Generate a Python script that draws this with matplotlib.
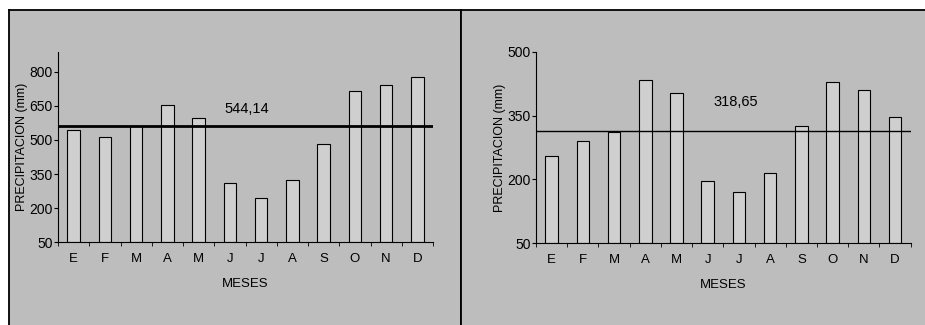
import matplotlib.pyplot as plt
import numpy as np

plt.rcParams['font.family'] = ['Liberation Sans', 'DejaVu Sans']

meses = ['E', 'F', 'M', 'A', 'M', 'J', 'J', 'A', 'S', 'O', 'N', 'D']

# estacion izquierda
prec_izq = [545, 511, 560, 654, 597, 310, 244, 325, 482, 716, 743, 778]
linea_izq = 563
texto_izq = '544,14'

# estacion derecha
prec_der = [254, 291, 312, 433, 403, 196, 171, 215, 325, 428, 410, 347]
linea_der = 314.5
texto_der = '318,65'

W, H = 925, 325
bg = '#bdbdbd'
fig = plt.figure(figsize=(W / 100, H / 100), dpi=100, facecolor='white')


def panel(x0, x1, y0):
    ax = fig.add_axes([x0 / W, 0, (x1 - x0) / W, (H - y0) / H])
    ax.set_facecolor(bg)
    ax.set_xticks([])
    ax.set_yticks([])
    ax.spines['bottom'].set_visible(False)
    for s in ['left', 'right', 'top']:
        ax.spines[s].set_linewidth(1.3)
    return ax


panel(9, 461, 10)
panel(461, 940, 10)


def chart(rect, vals, ylim, yticks, linea, texto, txt_xy, lw):
    x0, y_top, x1, y_bot = rect
    ax = fig.add_axes([x0 / W, (H - y_bot) / H, (x1 - x0) / W, (y_bot - y_top) / H])
    ax.patch.set_alpha(0)
    x = np.arange(len(meses))
    ax.bar(x, np.array(vals) - ylim[0], bottom=ylim[0], width=0.4,
           color='#cfcfcf', edgecolor='black', linewidth=0.8)
    ax.axhline(linea, color='black', lw=lw)
    ax.set_xlim(-0.5, 11.5)
    ax.set_ylim(*ylim)
    ax.set_yticks(yticks)
    ax.set_xticks(x)
    ax.set_xticklabels(meses, fontsize=9.5)
    ax.set_xticks(np.arange(-0.5, 12, 1), minor=True)
    ax.tick_params(axis='x', which='major', length=0, pad=8)
    ax.tick_params(axis='x', which='minor', length=3, direction='out')
    ax.tick_params(axis='y', length=3, direction='out', labelsize=10, pad=1)
    for s in ['top', 'right']:
        ax.spines[s].set_visible(False)
    ax.spines['left'].set_linewidth(0.8)
    ax.spines['bottom'].set_linewidth(0.8)
    ax.set_xlabel('MESES', fontsize=9.5, labelpad=9)
    ax.set_ylabel('PRECIPITACION (mm)', fontsize=9, labelpad=1)
    ax.text(txt_xy[0], txt_xy[1], texto, fontsize=10.5, ha='center', va='center')
    return ax


chart((58, 51.7, 433, 242.3), prec_izq, (50, 888), [50, 200, 350, 500, 650, 800],
      linea_izq, texto_izq, (5.55, 638), 2.0)
chart((536, 51.7, 910.7, 243.3), prec_der, (50, 500), [50, 200, 350, 500],
      linea_der, texto_der, (5.9, 381), 1.0)

fig.savefig('out.png', dpi=100, facecolor='white')
